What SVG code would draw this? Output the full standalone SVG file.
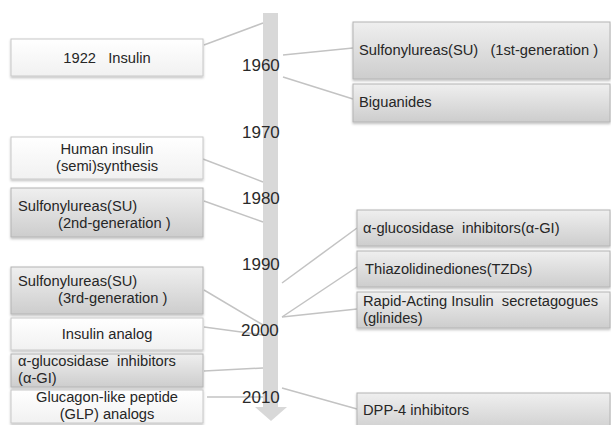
<svg xmlns="http://www.w3.org/2000/svg" width="611" height="425" viewBox="0 0 611 425">
<defs>
<linearGradient id="gGray" x1="0" y1="0" x2="0" y2="1">
<stop offset="0" stop-color="#efefef"/>
<stop offset="1" stop-color="#cdcdcd"/>
</linearGradient>
<linearGradient id="gLight" x1="0" y1="0" x2="0" y2="1">
<stop offset="0" stop-color="#ffffff"/>
<stop offset="1" stop-color="#f1f1f1"/>
</linearGradient>
<filter id="sh" x="-5%" y="-10%" width="110%" height="130%">
<feDropShadow dx="0" dy="1.5" stdDeviation="1" flood-color="#000" flood-opacity="0.25"/>
</filter>
<style>
.gray{fill:url(#gGray);stroke:#b4b4b4;stroke-width:1;filter:url(#sh)}
.light{fill:url(#gLight);stroke:#c8c8c8;stroke-width:1;filter:url(#sh)}
.t{font-family:"Liberation Sans",Arial,sans-serif;font-size:14.7px;fill:#262626}
.c{text-anchor:middle}
.yr{font-family:"Liberation Sans",Arial,sans-serif;font-size:17px;fill:#2a2a2a}
.ln{stroke:#c3c3c3;stroke-width:1.5;fill:none}
</style>
</defs>
<rect width="611" height="425" fill="#ffffff"/>
<g id="timeline">
<rect x="263" y="13" width="15" height="395" fill="#d8d8d8"/>
<polygon points="255,407 287,407 271,421" fill="#d8d8d8"/>
</g>
<g id="connectors">
<line class="ln" x1="204" y1="45" x2="263" y2="23"/>
<line class="ln" x1="203" y1="159" x2="263" y2="182"/>
<line class="ln" x1="204" y1="201" x2="263" y2="222"/>
<line class="ln" x1="204" y1="290" x2="263" y2="325"/>
<line class="ln" x1="204" y1="327" x2="263" y2="335"/>
<line class="ln" x1="204" y1="371" x2="263" y2="368"/>
<line class="ln" x1="207" y1="397" x2="263" y2="397"/>
<line class="ln" x1="283" y1="55" x2="353" y2="48"/>
<line class="ln" x1="283" y1="77" x2="353" y2="99"/>
<line class="ln" x1="282" y1="283" x2="357" y2="228"/>
<line class="ln" x1="282" y1="317" x2="357" y2="267"/>
<line class="ln" x1="282" y1="317" x2="357" y2="309"/>
<line class="ln" x1="282" y1="388" x2="357" y2="409"/>
</g>
<g id="years">
<text class="yr" x="242" y="71">1960</text>
<text class="yr" x="242" y="138">1970</text>
<text class="yr" x="242" y="204">1980</text>
<text class="yr" x="242" y="270">1990</text>
<text class="yr" x="241" y="336">2000</text>
<text class="yr" x="242" y="403">2010</text>
</g>
<g id="n-insulin1922">
<rect class="light" x="11" y="39" width="192" height="37"/>
<text class="t c" x="107" y="63" xml:space="preserve">1922   Insulin</text>
</g>
<g id="n-human-insulin">
<rect class="light" x="11" y="137" width="192" height="42"/>
<text class="t c" x="107" y="154">Human insulin</text>
<text class="t c" x="107" y="171">(semi)synthesis</text>
</g>
<g id="n-su2">
<rect class="gray" x="11" y="188" width="192" height="49"/>
<text class="t" x="18" y="211">Sulfonylureas(SU)</text>
<text class="t" x="58" y="228">(2nd-generation )</text>
</g>
<g id="n-su3">
<rect class="gray" x="11" y="267" width="192" height="47"/>
<text class="t" x="18" y="286">Sulfonylureas(SU)</text>
<text class="t" x="58" y="303">(3rd-generation )</text>
</g>
<g id="n-insulin-analog">
<rect class="light" x="11" y="318" width="192" height="32"/>
<text class="t c" x="107" y="339">Insulin analog</text>
</g>
<g id="n-agi-left">
<rect class="gray" x="11" y="354" width="192" height="33"/>
<text class="t" x="18" y="366" xml:space="preserve">α-glucosidase  inhibitors</text>
<text class="t" x="18" y="383">(α-GI)</text>
</g>
<g id="n-glp">
<rect class="light" x="11" y="390" width="192" height="33"/>
<text class="t c" x="107" y="402">Glucagon-like peptide</text>
<text class="t c" x="107" y="419">(GLP) analogs</text>
</g>
<g id="n-su1">
<rect class="gray" x="353" y="22" width="257" height="57"/>
<text class="t" x="359" y="55" xml:space="preserve">Sulfonylureas(SU)   (1st-generation )</text>
</g>
<g id="n-biguanides">
<rect class="gray" x="353" y="84" width="257" height="38"/>
<text class="t" x="359" y="107">Biguanides</text>
</g>
<g id="n-agi-right">
<rect class="gray" x="357" y="210" width="253" height="36"/>
<text class="t" x="363" y="233" xml:space="preserve">α-glucosidase  inhibitors(α-GI)</text>
</g>
<g id="n-tzd">
<rect class="gray" x="357" y="251" width="253" height="36"/>
<text class="t" x="365" y="274">Thiazolidinediones(TZDs)</text>
</g>
<g id="n-glinides">
<rect class="gray" x="357" y="292" width="253" height="36"/>
<text class="t" x="363" y="306" xml:space="preserve">Rapid-Acting Insulin  secretagogues</text>
<text class="t" x="363" y="323">(glinides)</text>
</g>
<g id="n-dpp4">
<rect class="gray" x="357" y="393" width="253" height="40"/>
<text class="t" x="363" y="415">DPP-4 inhibitors</text>
</g>
</svg>
